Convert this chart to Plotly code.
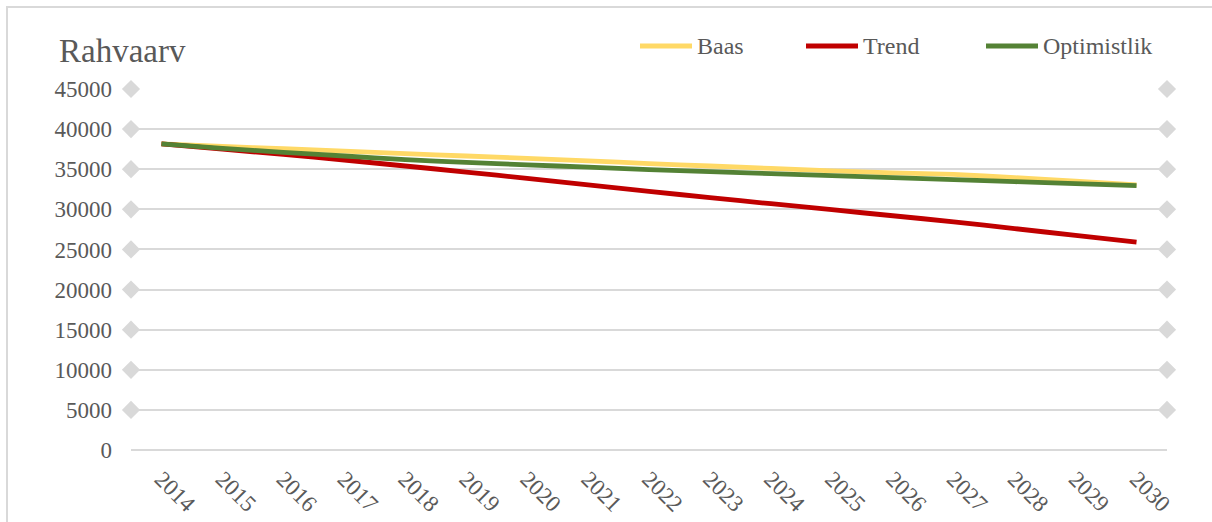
"""
Rahvaarvu prognoos 2014-2030: three scenario lines in an Excel-like style.
"""

import plotly.graph_objects as go

# Data
years = list(range(2014, 2031))
series_names = ['Baas', 'Trend', 'Optimistlik']
baas = [38150, 37850, 37550, 37250, 36950, 36650, 36350, 36050, 35700,
        35400, 35100, 34800, 34550, 34350, 33950, 33500, 33050]
trend = [38150, 37500, 36850, 36150, 35400, 34650, 33850, 33050, 32250,
         31450, 30700, 29950, 29200, 28450, 27600, 26750, 25900]
optimistlik = [38150, 37600, 37100, 36650, 36200, 35850, 35550, 35250, 34950,
               34700, 34450, 34200, 33950, 33700, 33450, 33200, 32950]
y_ticks = list(range(0, 45001, 5000))

colors = ['#FFD966', '#C00000', '#548235']
grid_color = '#d9d9d9'
text_color = '#595959'
font_family = 'Liberation Serif, Times New Roman, serif'

W, H = 1212, 522
L, R, T, B = 131, 45, 89, 72
plot_w = W - L - R
plot_h = H - T - B


def px_x(px):
    # pixel -> paper x
    return (px - L) / plot_w


def px_y(py):
    # pixel -> paper y
    return (H - B - py) / plot_h


fig = go.Figure()

# Diamond markers at both ends of every gridline (not at 0)
diamond_y = [v for v in y_ticks if v > 0]
fig.add_trace(go.Scatter(
    x=[years[0] - 0.5] * len(diamond_y) + [years[-1] + 0.5] * len(diamond_y),
    y=diamond_y + diamond_y,
    mode='markers',
    marker=dict(symbol='diamond', size=14, color=grid_color),
    cliponaxis=False,
    hoverinfo='skip',
    showlegend=False
))

for name, values, color in zip(series_names, [baas, trend, optimistlik], colors):
    fig.add_trace(go.Scatter(
        x=years,
        y=values,
        mode='lines',
        name=name,
        line=dict(color=color, width=4.8, shape='spline', smoothing=0.3),
        cliponaxis=False,
        showlegend=False
    ))

# Manual legend, Excel-like placement
legend_starts = [638, 804, 984]
shapes = []
annotations = []
for name, color, x0 in zip(series_names, colors, legend_starts):
    shapes.append(dict(
        type='line', xref='paper', yref='paper',
        x0=px_x(x0 + 2), x1=px_x(x0 + 54), y0=px_y(46), y1=px_y(46),
        line=dict(color=color, width=5)
    ))
    annotations.append(dict(
        x=px_x(x0 + 57), y=px_y(46), xref='paper', yref='paper',
        text=name, showarrow=False, xanchor='left', yanchor='middle',
        font=dict(family=font_family, size=24, color=text_color)
    ))

# Outer chart border
shapes.append(dict(
    type='rect', xref='paper', yref='paper',
    x0=px_x(7), x1=px_x(W + 10), y0=px_y(H + 10), y1=px_y(7),
    line=dict(color=grid_color, width=2), fillcolor='rgba(0,0,0,0)',
    layer='below'
))

fig.update_layout(
    width=W,
    height=H,
    margin=dict(l=L, r=R, t=T, b=B, autoexpand=False),
    paper_bgcolor='white',
    plot_bgcolor='white',
    title=dict(
        text='Rahvaarv',
        x=59 / W, xanchor='left',
        y=1 - 50 / H, yanchor='middle',
        font=dict(family=font_family, size=33, color=text_color)
    ),
    font=dict(family=font_family, color=text_color),
    xaxis=dict(
        range=[years[0] - 0.5, years[-1] + 0.5],
        tickmode='array',
        tickvals=years,
        ticktext=[str(y) for y in years],
        tickangle=45,
        showgrid=False,
        zeroline=False,
        showline=False,
        ticks='',
        automargin=False,
        ticklabelstandoff=10,
        tickfont=dict(family=font_family, size=23, color=text_color)
    ),
    yaxis=dict(
        range=[0, 45000],
        tickmode='array',
        tickvals=y_ticks,
        ticktext=[str(v) for v in y_ticks],
        showgrid=True,
        gridcolor=grid_color,
        gridwidth=1.5,
        zeroline=True,
        zerolinecolor=grid_color,
        zerolinewidth=1.5,
        showline=False,
        ticks='',
        automargin=False,
        ticklabelstandoff=18,
        tickfont=dict(family=font_family, size=23, color=text_color)
    ),
    shapes=shapes,
    annotations=annotations,
    hovermode=False
)

# Remove the default page margin so the figure sits at the window's corner
fig.write_html(
    "out.html",
    config={'displayModeBar': False},
    post_script="document.body.style.margin='0';"
                "document.body.style.overflow='hidden';"
)
